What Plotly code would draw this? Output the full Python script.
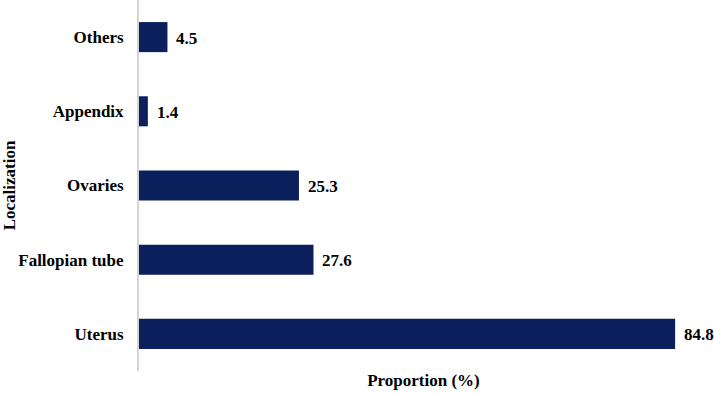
import plotly.graph_objects as go

categories = ["Uterus", "Fallopian tube", "Ovaries", "Appendix", "Others"]
values = [84.8, 27.6, 25.3, 1.4, 4.5]
labels = ["84.8", "27.6", "25.3", "1.4", "4.5"]

font_family = "Liberation Serif, Times New Roman, serif"
fs = 17

fig = go.Figure(go.Bar(
    x=values, y=categories, orientation="h",
    marker=dict(color="#0b1f5c", line=dict(width=0)),
    width=0.405,
))

for c, v, t in zip(categories, values, labels):
    fig.add_annotation(x=v, y=c, text="<b>%s</b>" % t, showarrow=False,
                       xanchor="left", xshift=7, yshift=-1,
                       font=dict(family=font_family, size=fs, color="black"))

fig.update_layout(
    width=714, height=394,
    margin=dict(l=139, r=6, t=0, b=23),
    plot_bgcolor="white", paper_bgcolor="white",
    showlegend=False,
    font=dict(family=font_family, size=fs, color="black"),
    xaxis=dict(range=[0, 90], showgrid=False, showticklabels=False, zeroline=False,
               ticks="", showline=False,
               title=dict(text="<b>Proportion (%)</b>", standoff=3,
                          font=dict(family=font_family, size=fs, color="black"))),
    yaxis=dict(showgrid=False, zeroline=False, showline=True, linecolor="#d4d4d4", linewidth=2,
               ticks="", ticklabelstandoff=10,
               tickfont=dict(family=font_family, size=fs, color="black"),
               tickvals=categories, ticktext=["<b>%s</b>" % c for c in categories],
               title=dict(text="<b>Localization</b>", standoff=6,
                          font=dict(family=font_family, size=fs, color="black"))),
)

fig.write_html("out.html")
